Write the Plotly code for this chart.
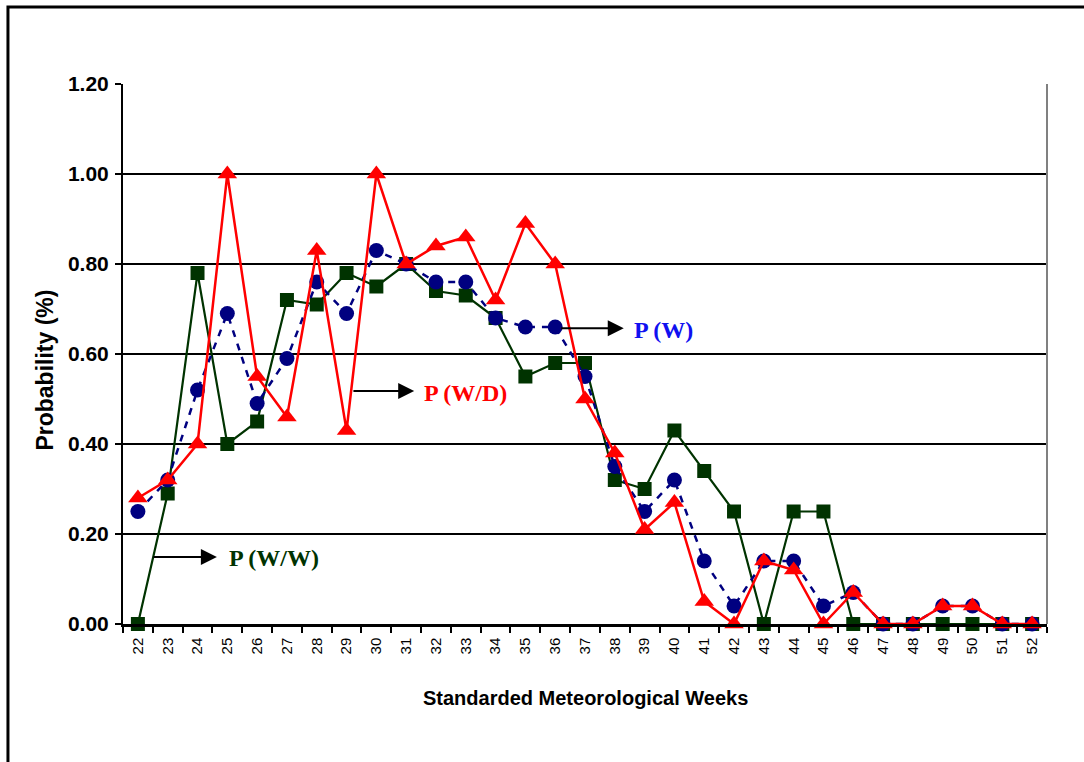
import plotly.graph_objects as go

# Standard meteorological weeks (categories on the x axis)
weeks = ["22", "23", "24", "25", "26", "27", "28", "29", "30", "31", "32",
         "33", "34", "35", "36", "37", "38", "39", "40", "41", "42", "43",
         "44", "45", "46", "47", "48", "49", "50", "51", "52"]

# Probability of a wet week
p_w = [0.25, 0.32, 0.52, 0.69, 0.49, 0.59, 0.76, 0.69, 0.83, 0.80, 0.76,
       0.76, 0.68, 0.66, 0.66, 0.55, 0.35, 0.25, 0.32, 0.14, 0.04, 0.14,
       0.14, 0.04, 0.07, 0.00, 0.00, 0.04, 0.04, 0.00, 0.00]

# Probability of a wet week preceded by a wet week
p_ww = [0.00, 0.29, 0.78, 0.40, 0.45, 0.72, 0.71, 0.78, 0.75, 0.80, 0.74,
        0.73, 0.68, 0.55, 0.58, 0.58, 0.32, 0.30, 0.43, 0.34, 0.25, 0.00,
        0.25, 0.25, 0.00, 0.00, 0.00, 0.00, 0.00, 0.00, 0.00]

# Probability of a wet week preceded by a dry week
p_wd = [0.28, 0.32, 0.40, 1.00, 0.55, 0.46, 0.83, 0.43, 1.00, 0.80, 0.84,
        0.86, 0.72, 0.89, 0.80, 0.50, 0.38, 0.21, 0.27, 0.05, 0.00, 0.14,
        0.12, 0.00, 0.07, 0.00, 0.00, 0.04, 0.04, 0.00, 0.00]

y_ticks = [0.0, 0.2, 0.4, 0.6, 0.8, 1.0, 1.2]

GREEN = "#003300"
NAVY = "#000080"
RED = "#FF0000"
BLUE_TXT = "#1010F0"

fig = go.Figure()

fig.add_trace(go.Scatter(
    x=weeks, y=p_ww, mode="lines+markers", name="P (W/W)",
    line=dict(color=GREEN, width=2.2),
    marker=dict(symbol="square", size=14, color=GREEN),
    cliponaxis=False,
))
fig.add_trace(go.Scatter(
    x=weeks, y=p_w, mode="lines+markers", name="P (W)",
    line=dict(color=NAVY, width=2.5, dash="7px,7px"),
    marker=dict(symbol="circle", size=15, color=NAVY),
    cliponaxis=False,
))
fig.add_trace(go.Scatter(
    x=weeks, y=p_wd, mode="lines+markers", name="P (W/D)",
    line=dict(color=RED, width=2.5),
    marker=dict(symbol="triangle-up", size=17, color=RED),
    cliponaxis=False,
))

fig.update_xaxes(
    type="category",
    range=[-0.5, len(weeks) - 0.5],
    tickangle=-90,
    tickson="boundaries",
    ticks="outside", ticklen=6, tickwidth=1.5, tickcolor="black",
    showline=True, linecolor="black", linewidth=2.5,
    showgrid=False,
    ticklabelstandoff=5,
    tickfont=dict(family="Liberation Sans, Arial", size=15, color="black"),
)
fig.update_yaxes(
    range=[0, 1.2],
    tickvals=y_ticks,
    tickformat=".2f",
    ticks="outside", ticklen=6, tickwidth=1.5, tickcolor="black",
    showline=True, linecolor="black", linewidth=2,
    showgrid=True, gridcolor="black", gridwidth=2,
    zeroline=False,
    ticklabelstandoff=2,
    tickfont=dict(family="Liberation Sans, Arial", size=21, color="black",
                  weight="bold"),
)

annotations = [
    # axis titles
    dict(text="<b>Standarded Meteorological Weeks</b>", xref="paper", yref="paper",
         x=0.5, y=-0.137, yanchor="middle", xanchor="center", showarrow=False,
         font=dict(family="Liberation Sans, Arial", size=20, color="black")),
    dict(text="<b>Probability (%)</b>", xref="paper", yref="paper",
         x=-0.084, y=0.47, xanchor="center", yanchor="middle", textangle=-90,
         showarrow=False,
         font=dict(family="Liberation Sans, Arial", size=23, color="black")),
]

# Series labels with pointer arrows
labels = [
    ("P (W/W)", GREEN, 2.65, 0.149, 0.47, 2.99, 0.147),
    ("P (W/D)", RED, 9.27, 0.518, 7.18, 9.53, 0.514),
    ("P (W)", BLUE_TXT, 16.3, 0.657, 14.15, 16.57, 0.653),
]
for text, color, hx, hy, tx, lx, ly in labels:
    annotations.append(dict(
        x=hx, y=hy, ax=tx, ay=hy, xref="x", yref="y", axref="x", ayref="y",
        text="", showarrow=True, arrowhead=2, arrowsize=1.6, arrowwidth=2,
        arrowcolor="black",
    ))
    annotations.append(dict(
        x=lx, y=ly, xref="x", yref="y", xanchor="left", yanchor="middle",
        text="<b>" + text + "</b>", showarrow=False,
        font=dict(family="Liberation Serif, Times New Roman", size=24, color=color),
    ))

shapes = [
    # grey right border of the plotting area
    dict(type="line", xref="paper", yref="paper", x0=1, x1=1, y0=0, y1=1,
         line=dict(color="#808080", width=2)),
    # outer chart frame
    dict(type="rect", xref="paper", yref="paper",
         x0=-0.1245, x1=1.2, y0=-0.5, y1=1.1426,
         line=dict(color="black", width=3), layer="below"),
]

fig.update_layout(
    width=1084, height=762,
    margin=dict(l=123, r=37, t=84, b=138),
    paper_bgcolor="white", plot_bgcolor="white",
    showlegend=False,
    annotations=annotations,
    shapes=shapes,
)

fig.write_html("out.html")
